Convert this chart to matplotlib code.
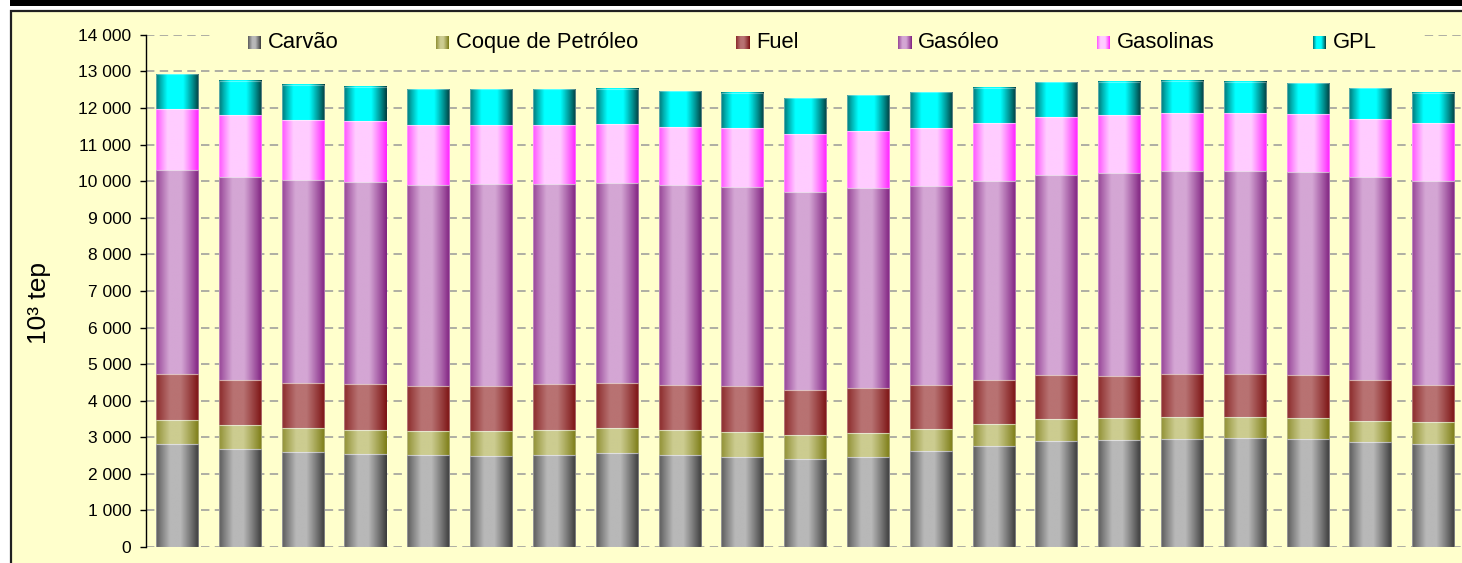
import numpy as np
import matplotlib
matplotlib.use("Agg")
import matplotlib.pyplot as plt
from matplotlib.colors import to_rgb
from matplotlib.patches import Rectangle
from matplotlib.ticker import FuncFormatter, MultipleLocator

plt.rcParams['font.family'] = ['Liberation Sans', 'DejaVu Sans']

#---------------------DATA------------------------
# 10^3 tep, one value per bar (21 bars, no category labels visible)
carvao    = [2825, 2688, 2606, 2551, 2507, 2496, 2524, 2579, 2515, 2469, 2406,
             2469, 2625, 2770, 2898, 2934, 2962, 2989, 2962, 2880, 2825]
coque     = [639, 648, 639, 648, 664, 666, 684, 674, 675, 667, 647,
             639, 601, 602, 593, 584, 601, 574, 565, 565, 584]
fuel      = [1257, 1239, 1247, 1249, 1231, 1240, 1240, 1239, 1230, 1257, 1248,
             1248, 1212, 1203, 1203, 1166, 1177, 1157, 1173, 1115, 1011]
gasoleo   = [5595, 5550, 5551, 5540, 5504, 5522, 5485, 5469, 5477, 5458, 5405,
             5450, 5441, 5440, 5485, 5541, 5540, 5570, 5550, 5550, 5580]
gasolinas = [1659, 1677, 1640, 1650, 1631, 1613, 1604, 1604, 1586, 1596, 1594,
             1576, 1576, 1577, 1577, 1586, 1580, 1570, 1588, 1600, 1580]
gpl       = [956, 938, 957, 947, 976, 984, 976, 965, 984, 974, 966,
             975, 975, 966, 948, 911, 880, 853, 839, 839, 841]

series_names = ['Carvão', 'Coque de Petróleo', 'Fuel', 'Gasóleo', 'Gasolinas', 'GPL']
series_vals = [carvao, coque, fuel, gasoleo, gasolinas, gpl]
# (edge colour, centre colour) of the horizontal gradient fill
series_cols = [('#383838', '#b8b8b8'),
               ('#7a7a12', '#cccc90'),
               ('#7a1010', '#b87272'),
               ('#7e1e7e', '#d4a6d4'),
               ('#ff1cff', '#ffccff'),
               ('#003a3a', '#00ffff')]
boosts = [1.25, 1.25, 1.25, 1.3, 1.45, 1.45]
#-------------------------------------------------

W, H = 1462, 563
BG = '#ffffcc'


def grad(c_edge, c_mid, n=80, boost=1.0):
    t = np.linspace(0, 1, n)
    f = np.clip(1 - np.abs(t - 0.45) / 0.55, 0, 1) ** 0.9
    f = np.clip(f * boost, 0, 1)
    e = np.array(to_rgb(c_edge))
    m = np.array(to_rgb(c_mid))
    return (e[None, :] + (m - e)[None, :] * f[:, None])[None, :, :]


fig = plt.figure(figsize=(W / 100., H / 100.), dpi=100)
fig.patch.set_facecolor('white')

# frame pieces: thick band on top, chart area box
fig.patches.append(Rectangle((10. / W, 1 - 6. / H), 1, 6. / H, transform=fig.transFigure,
                             facecolor='black', edgecolor='none', zorder=-10))
fig.patches.append(Rectangle((11. / W, -0.2), 1.2, 1.2 - 11. / H, transform=fig.transFigure,
                             facecolor=BG, edgecolor='#202020', lw=1.6, zorder=-10))

ax = fig.add_axes([145.7 / W, 16. / H, (1464.6 - 145.7) / W, (547 - 34.9) / H])
ax.patch.set_visible(False)

x = np.arange(len(carvao))
bw = 0.67
bottom = np.zeros(len(x))
for name, vals, (ce, cm), bst in zip(series_names, series_vals, series_cols, boosts):
    vals = np.array(vals, dtype=float)
    img = grad(ce, cm, boost=bst)
    bars = ax.bar(x, vals, bw, bottom=bottom, color='none',
                  edgecolor=(1, 1, 1, 0.35), linewidth=0.8, zorder=3, label=name)
    for p in bars:
        x0, y0 = p.get_x(), p.get_y()
        ax.imshow(img, extent=[x0, x0 + p.get_width(), y0, y0 + p.get_height()],
                  aspect='auto', interpolation='bilinear', zorder=2)
    bottom += vals

ax.set_xlim(-0.5, len(x) - 0.5)
ax.set_ylim(0, 14000)
ax.yaxis.set_major_locator(MultipleLocator(1000))
ax.yaxis.set_major_formatter(FuncFormatter(lambda v, p: f'{int(v):,}'.replace(',', ' ')))
ax.set_axisbelow(True)
ax.yaxis.grid(True, color='#999999', linestyle=(0, (5.5, 3.5)), linewidth=1.1)

for s in ['top', 'right', 'bottom']:
    ax.spines[s].set_visible(False)
ax.spines['left'].set_color('black')
ax.spines['left'].set_linewidth(1.0)
ax.tick_params(axis='y', length=4.5, width=1, direction='out', pad=6, labelsize=12.5)
ax.tick_params(axis='x', bottom=False, labelbottom=False)

fig.text(39. / W, 1 - 303. / H, '10³ tep', rotation=90, ha='center', va='center', fontsize=19)

# legend: background strip over the top gridline, gradient squares and labels
ax.add_patch(Rectangle((210. / W, 1 - 60. / H), (1420. - 210.) / W, 38. / H,
                       transform=fig.transFigure, facecolor=BG, edgecolor='none',
                       zorder=1, clip_on=False))
leg_x = [268, 456, 756, 918, 1117, 1333]
for name, (ce, cm), bst, tx in zip(series_names, series_cols, boosts, leg_x):
    sq = fig.add_axes([(tx - 20.) / W, 1 - 49. / H, 13. / W, 13. / H])
    sq.imshow(grad(ce, cm, boost=bst), aspect='auto', interpolation='bilinear')
    sq.axis('off')
    fig.text(tx / W, 1 - 42.5 / H, name, ha='left', va='center', fontsize=15.8)

fig.savefig('out.png', dpi=100)
